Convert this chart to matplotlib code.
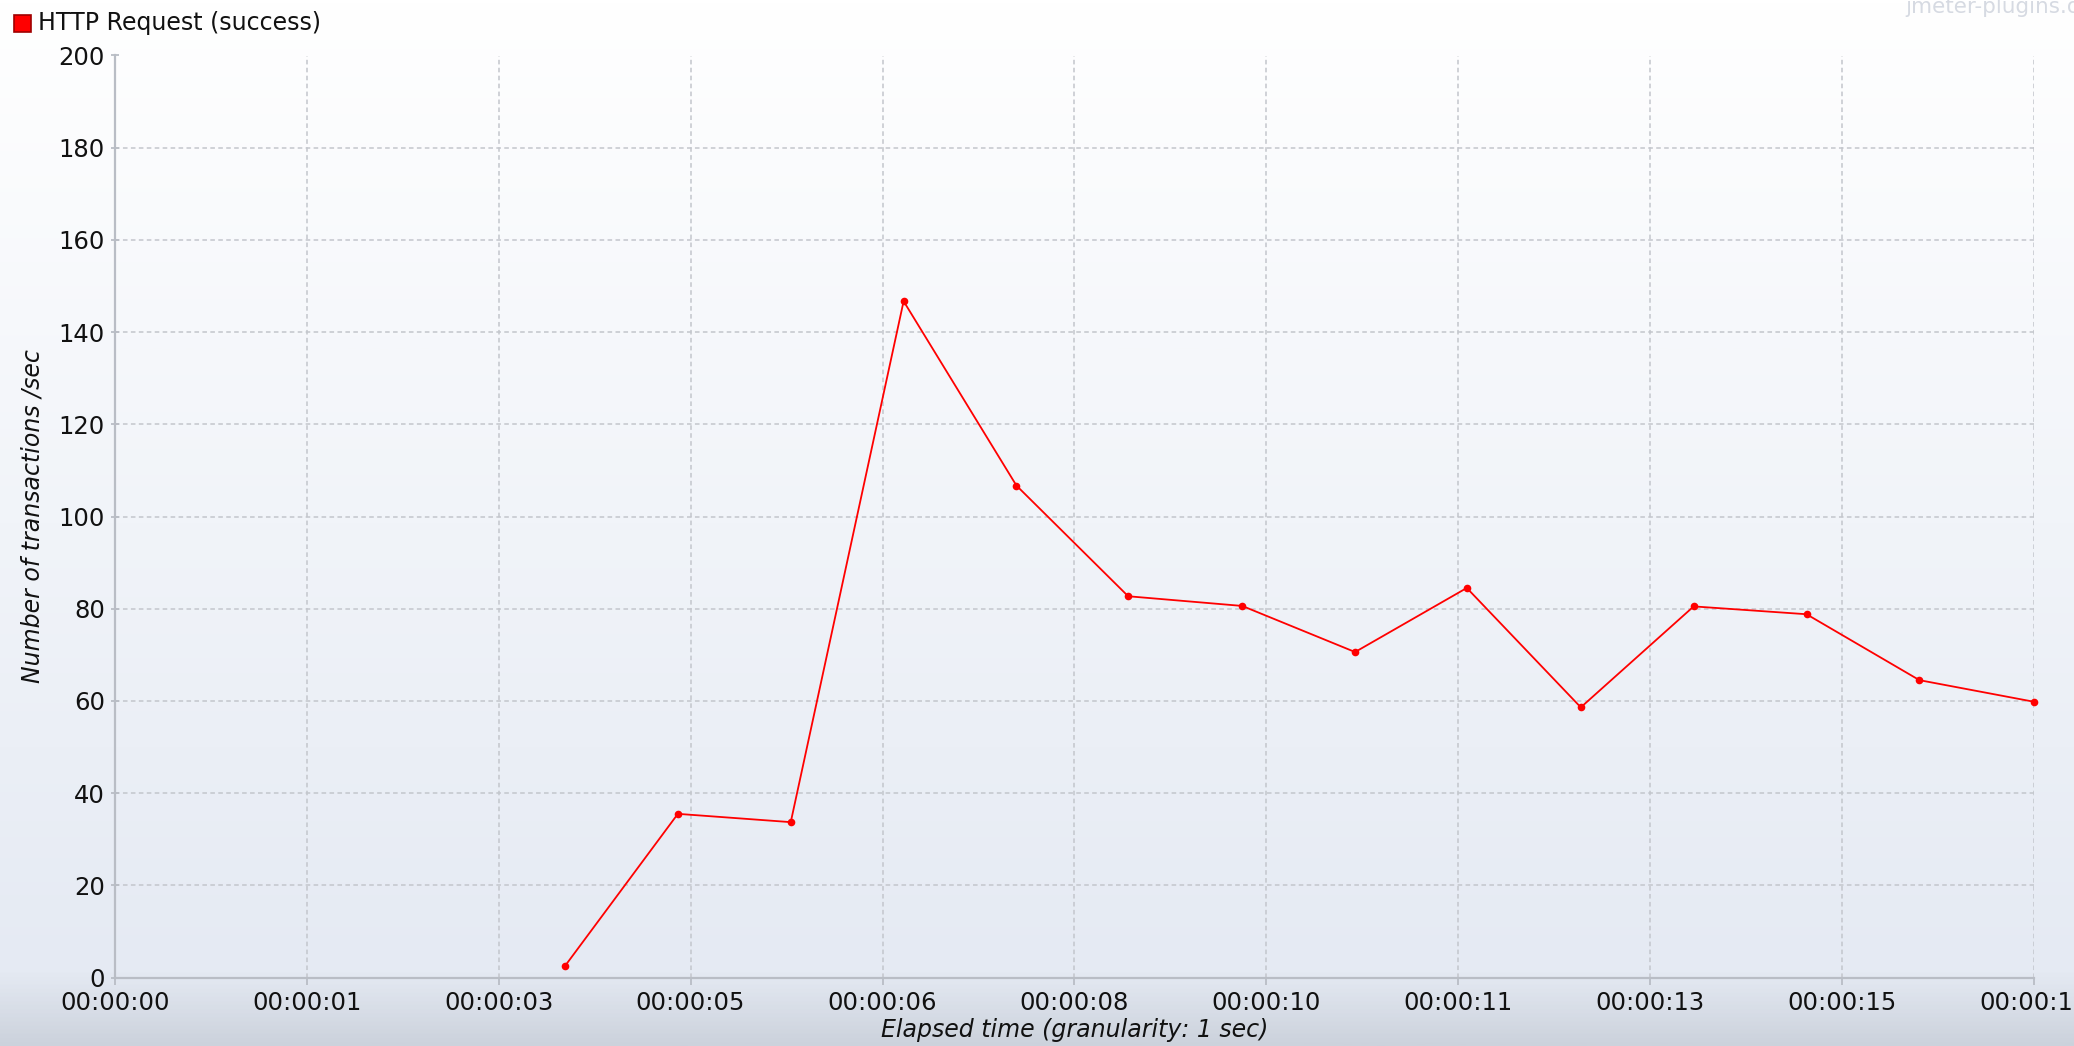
import numpy as np
import matplotlib
matplotlib.use("Agg")
import matplotlib.pyplot as plt
from matplotlib.colors import LinearSegmentedColormap

# ---- data ----
elapsed_sec = [3.91, 4.89, 5.87, 6.85, 7.83, 8.80, 9.79, 10.77, 11.74, 12.73, 13.71, 14.69, 15.67, 16.667]
tps = [2.5, 35.5, 33.7, 146.7, 106.7, 82.7, 80.6, 70.6, 84.5, 58.6, 80.5, 78.8, 64.5, 59.8]
x_ticks = [0, 5/3, 10/3, 5, 20/3, 25/3, 10, 35/3, 40/3, 15, 50/3]
x_tick_labels = ["00:00:00", "00:00:01", "00:00:03", "00:00:05", "00:00:06", "00:00:08",
                 "00:00:10", "00:00:11", "00:00:13", "00:00:15", "00:00:16"]
y_ticks = [0, 20, 40, 60, 80, 100, 120, 140, 160, 180, 200]
series_label = "HTTP Request (success)"

W, H = 2074, 1046
fig = plt.figure(figsize=(W / 100, H / 100), dpi=100)

# background gradient
bg = fig.add_axes([0, 0, 1, 1], zorder=-10)
bg.set_axis_off()
cmap = LinearSegmentedColormap.from_list(
    "bg", [(0.0, "#ffffff"), (0.5, "#f1f4f9"), (0.93, "#e5eaf3"), (1.0, "#ccd2dc")])
grad = np.linspace(0, 1, 512).reshape(-1, 1)
bg.imshow(grad, aspect="auto", cmap=cmap, extent=[0, 1, 1, 0])
bg.set_xlim(0, 1)
bg.set_ylim(1, 0)

left, right = 114.7 / W, 2034.2 / W
top, bottom = 55.5 / H, 977.5 / H
ax = fig.add_axes([left, 1 - bottom, right - left, bottom - top])
ax.patch.set_alpha(0)

ax.plot(elapsed_sec, tps, color="#ff0000", lw=1.3, marker="o", ms=5.5,
        markeredgewidth=0, zorder=5, clip_on=False)

ax.set_xlim(0, 50 / 3)
ax.set_ylim(0, 200)
ax.set_xticks(x_ticks)
ax.set_xticklabels(x_tick_labels)
ax.set_yticks(y_ticks)

grid_color = "#c3c6cc"
ax.grid(True, color=grid_color, linestyle=(0, (3, 2.2)), linewidth=1.1)
for s in ["top", "right"]:
    ax.spines[s].set_visible(False)
for s in ["left", "bottom"]:
    ax.spines[s].set_color("#b9bdc5")
    ax.spines[s].set_linewidth(1.6)

ax.tick_params(axis="both", colors="#b9bdc5", labelcolor="#111111", labelsize=17.5,
               length=6, width=1.3)
ax.tick_params(axis="y", direction="inout", pad=4)
ax.tick_params(axis="x", direction="out", length=5, pad=5)

ax.set_ylabel("Number of transactions /sec", fontsize=17, style="italic", color="#111111",
              labelpad=10)
ax.set_xlabel("Elapsed time (granularity: 1 sec)", fontsize=17, style="italic",
              color="#111111", labelpad=2)

# legend
fig.patches.append(matplotlib.patches.Rectangle((14 / W, 1 - 32 / H), 17 / W, 17 / H,
                   transform=fig.transFigure, facecolor="#ff0000", edgecolor="#a00000",
                   linewidth=1.2))
fig.text(38 / W, 1 - 23 / H, series_label, fontsize=17, color="#111111",
         ha="left", va="center")

# watermark
fig.text(1905 / W, 1 + 3 / H, "jmeter-plugins.org", fontsize=15.5, color="#d6dae2",
         ha="left", va="top")

fig.savefig("out.png", dpi=100)
